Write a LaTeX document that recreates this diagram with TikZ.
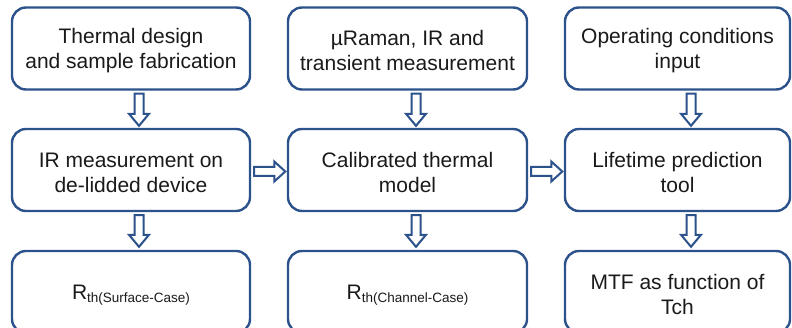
\documentclass[tikz,border=0pt]{standalone}
\usepackage{fontspec}
\setmainfont{Liberation Sans}
\usetikzlibrary{calc}
\definecolor{boxblue}{RGB}{44,82,140}
\definecolor{txt}{RGB}{26,26,26}
\newcommand\st{\rule{0pt}{20pt}}
\newcommand\vblk[2]{\draw[blkarrow] let \p1=(#1), \p2=(#2) in
  (\x1-4.5pt,\y1) -- (\x1+4.5pt,\y1) -- (\x1+4.5pt,\y2+12pt) -- (\x1+10pt,\y2+12pt)
  -- (\x1,\y2) -- (\x1-10pt,\y2+12pt) -- (\x1-4.5pt,\y2+12pt) -- cycle;}
\newcommand\hblk[2]{\draw[blkarrow] let \p1=(#1), \p2=(#2) in
  (\x1,\y1+4.5pt) -- (\x2-11pt,\y1+4.5pt) -- (\x2-11pt,\y1+10pt) -- (\x2,\y1)
  -- (\x2-11pt,\y1-10pt) -- (\x2-11pt,\y1-4.5pt) -- (\x1,\y1-4.5pt) -- cycle;}
\tikzset{
  flowbox/.style={draw=boxblue, line width=2.4pt, rounded corners=14pt, fill=white,
    minimum height=82pt, align=center, text=txt,
    font=\fontsize{21}{25}\selectfont, inner sep=0pt},
  blkarrow/.style={draw=boxblue, line width=2pt, fill=white, line join=miter}
}
\begin{document}
\begin{tikzpicture}[x=1pt,y=-1pt]
\useasboundingbox (0,0) rectangle (792,328);
\clip (0,0) rectangle (792,328);
% row 1
\node[flowbox, minimum width=238pt] (b1) at (131,48.5) {\st Thermal design\\and sample fabrication};
\node[flowbox, minimum width=239pt] (b2) at (407.5,48.5) {\st µRaman, IR and\\transient measurement};
\node[flowbox, minimum width=225pt] (b3) at (677.5,48.5) {\st Operating conditions\\input};
% row 2
\node[flowbox, minimum width=238pt] (m1) at (131,170) {\st IR measurement on\\de-lidded device};
\node[flowbox, minimum width=239pt] (m2) at (407.5,170) {\st Calibrated thermal\\model};
\node[flowbox, minimum width=225pt] (m3) at (677.5,170) {\st Lifetime prediction\\tool};
% row 3
\node[flowbox, minimum width=238pt] (r1) at (131,292) {\st R\raisebox{-3pt}{\fontsize{13.5}{14}\selectfont th(Surface-Case)}};
\node[flowbox, minimum width=239pt] (r2) at (407.5,292) {\st R\raisebox{-3pt}{\fontsize{13.5}{14}\selectfont th(Channel-Case)}};
\node[flowbox, minimum width=225pt] (r3) at (677.5,292) {\st MTF as function of\\Tch};
% arrow end points
\coordinate (v1s) at ($(b1.south)+(8,3)$);   \coordinate (v1e) at ($(m1.north)+(8,-2)$);
\coordinate (v2s) at ($(m1.south)+(8,3)$);   \coordinate (v2e) at ($(r1.north)+(8,-3)$);
\coordinate (v3s) at ($(b2.south)+(8.5,3)$); \coordinate (v3e) at ($(m2.north)+(8.5,-2)$);
\coordinate (v4s) at ($(m2.south)+(8.5,3)$); \coordinate (v4e) at ($(r2.north)+(8.5,-3)$);
\coordinate (v5s) at ($(b3.south)+(13.5,3)$); \coordinate (v5e) at ($(m3.north)+(13.5,-2)$);
\coordinate (v6s) at ($(m3.south)+(13.5,3)$); \coordinate (v6e) at ($(r3.north)+(13.5,-3)$);
\coordinate (h1s) at ($(m1.east)+(3,1.5)$);  \coordinate (h1e) at ($(m2.west)+(-1.5,1.5)$);
\coordinate (h2s) at ($(m2.east)+(3,1.5)$);  \coordinate (h2e) at ($(m3.west)+(-1.5,1.5)$);
\vblk{v1s}{v1e}
\vblk{v2s}{v2e}
\vblk{v3s}{v3e}
\vblk{v4s}{v4e}
\vblk{v5s}{v5e}
\vblk{v6s}{v6e}
\hblk{h1s}{h1e}
\hblk{h2s}{h2e}
\end{tikzpicture}
\end{document}
